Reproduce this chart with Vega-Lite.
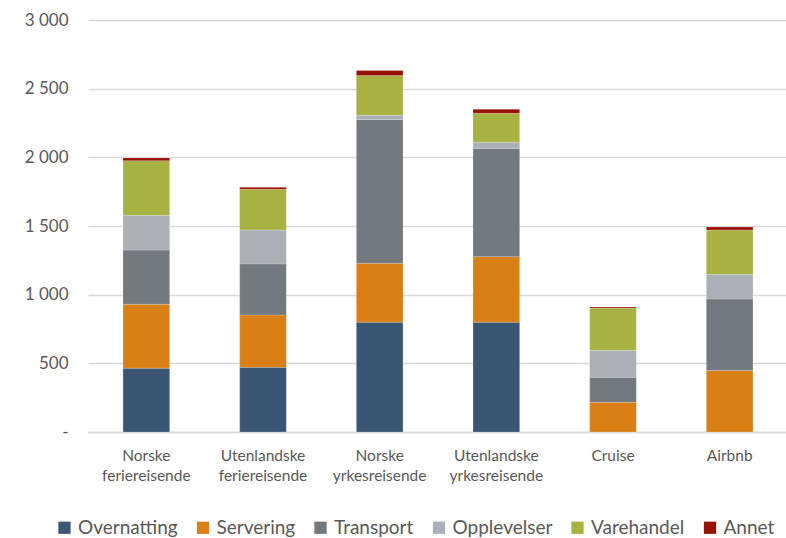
{
  "$schema": "https://vega.github.io/schema/vega-lite/v6.json",
  "width": 700,
  "height": 412,
  "autosize": {"type": "none"},
  "padding": {"left": 88, "top": 20, "right": 0, "bottom": 106},
  "background": "white",
  "config": {
    "font": "Lato",
    "view": {"stroke": null},
    "axis": {"labelFont": "Lato", "labelColor": "#595959", "labelFontSize": 15}
  },
  "data": {
    "values": [
      {"kat": "Norske feriereisende", "type": "Overnatting", "o": 1, "v": 465},
      {"kat": "Norske feriereisende", "type": "Servering", "o": 2, "v": 465},
      {"kat": "Norske feriereisende", "type": "Transport", "o": 3, "v": 395},
      {"kat": "Norske feriereisende", "type": "Opplevelser", "o": 4, "v": 253},
      {"kat": "Norske feriereisende", "type": "Varehandel", "o": 5, "v": 398},
      {"kat": "Norske feriereisende", "type": "Annet", "o": 6, "v": 20},
      {"kat": "Utenlandske feriereisende", "type": "Overnatting", "o": 1, "v": 471},
      {"kat": "Utenlandske feriereisende", "type": "Servering", "o": 2, "v": 381},
      {"kat": "Utenlandske feriereisende", "type": "Transport", "o": 3, "v": 372},
      {"kat": "Utenlandske feriereisende", "type": "Opplevelser", "o": 4, "v": 247},
      {"kat": "Utenlandske feriereisende", "type": "Varehandel", "o": 5, "v": 297},
      {"kat": "Utenlandske feriereisende", "type": "Annet", "o": 6, "v": 14},
      {"kat": "Norske yrkesreisende", "type": "Overnatting", "o": 1, "v": 800},
      {"kat": "Norske yrkesreisende", "type": "Servering", "o": 2, "v": 429},
      {"kat": "Norske yrkesreisende", "type": "Transport", "o": 3, "v": 1046},
      {"kat": "Norske yrkesreisende", "type": "Opplevelser", "o": 4, "v": 31},
      {"kat": "Norske yrkesreisende", "type": "Varehandel", "o": 5, "v": 289},
      {"kat": "Norske yrkesreisende", "type": "Annet", "o": 6, "v": 37},
      {"kat": "Utenlandske yrkesreisende", "type": "Overnatting", "o": 1, "v": 800},
      {"kat": "Utenlandske yrkesreisende", "type": "Servering", "o": 2, "v": 477},
      {"kat": "Utenlandske yrkesreisende", "type": "Transport", "o": 3, "v": 787},
      {"kat": "Utenlandske yrkesreisende", "type": "Opplevelser", "o": 4, "v": 46},
      {"kat": "Utenlandske yrkesreisende", "type": "Varehandel", "o": 5, "v": 211},
      {"kat": "Utenlandske yrkesreisende", "type": "Annet", "o": 6, "v": 29},
      {"kat": "Cruise", "type": "Overnatting", "o": 1, "v": 0},
      {"kat": "Cruise", "type": "Servering", "o": 2, "v": 216},
      {"kat": "Cruise", "type": "Transport", "o": 3, "v": 182},
      {"kat": "Cruise", "type": "Opplevelser", "o": 4, "v": 197},
      {"kat": "Cruise", "type": "Varehandel", "o": 5, "v": 308},
      {"kat": "Cruise", "type": "Annet", "o": 6, "v": 7},
      {"kat": "Airbnb", "type": "Overnatting", "o": 1, "v": 0},
      {"kat": "Airbnb", "type": "Servering", "o": 2, "v": 447},
      {"kat": "Airbnb", "type": "Transport", "o": 3, "v": 522},
      {"kat": "Airbnb", "type": "Opplevelser", "o": 4, "v": 179},
      {"kat": "Airbnb", "type": "Varehandel", "o": 5, "v": 323},
      {"kat": "Airbnb", "type": "Annet", "o": 6, "v": 22}
    ]
  },
  "mark": {"type": "bar", "stroke": "white", "strokeWidth": 0.5, "strokeOpacity": 0.4},
  "encoding": {
    "x": {
      "field": "kat", "type": "nominal", "sort": null,
      "scale": {"paddingInner": 0.6, "paddingOuter": 0.3},
      "axis": {
        "title": null, "labelAngle": 0, "ticks": false,
        "domainColor": "#d9d9d9", "domainWidth": 1.5,
        "labelPadding": 16, "labelLineHeight": 20, "labelFontSize": 15.5,
        "labelExpr": "split(datum.label, ' ')"
      }
    },
    "y": {
      "field": "v", "type": "quantitative", "stack": "zero",
      "scale": {"domain": [0, 3000], "nice": false},
      "axis": {
        "title": null, "values": [0, 500, 1000, 1500, 2000, 2500, 3000],
        "labelOverlap": false,
        "domain": false, "ticks": false, "labelPadding": 20, "labelFontSize": 17,
        "gridColor": "#d9d9d9", "gridWidth": 1.5,
        "labelExpr": "datum.value == 0 ? '-' : replace(format(datum.value, ','), ',', ' ')"
      }
    },
    "color": {
      "field": "type", "type": "nominal",
      "scale": {
        "domain": ["Overnatting", "Servering", "Transport", "Opplevelser", "Varehandel", "Annet"],
        "range": ["#3A5674", "#D97F15", "#72797F", "#AAB0B5", "#A7B242", "#991100"]
      },
      "legend": {
        "title": null, "orient": "none", "direction": "horizontal",
        "legendX": -33, "legendY": 498,
        "symbolType": "square", "symbolSize": 150, "symbolStrokeWidth": 0,
        "labelFontSize": 19, "labelColor": "#595959", "labelFont": "Lato",
        "columnPadding": 15.5, "labelOffset": 4
      }
    },
    "order": {"field": "o", "type": "quantitative"}
  }
}
